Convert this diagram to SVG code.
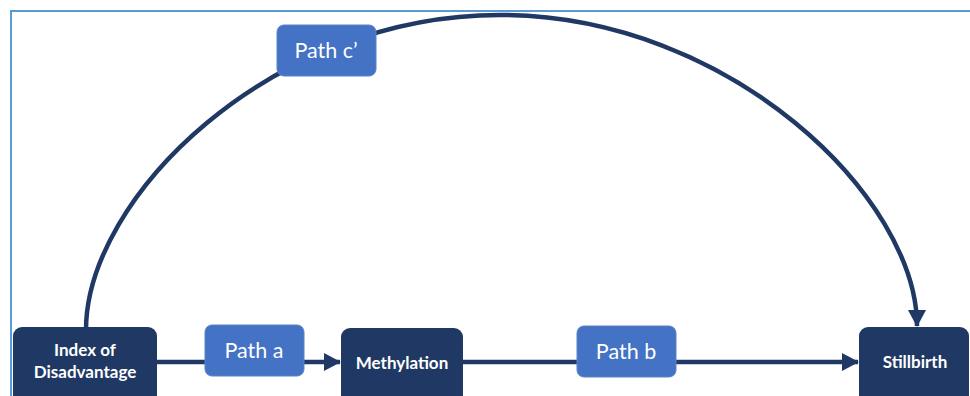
<svg xmlns="http://www.w3.org/2000/svg" width="970" height="396" viewBox="0 0 970 396">
  <defs>
    <marker id="arrow" markerUnits="userSpaceOnUse" markerWidth="18" markerHeight="18" refX="16" refY="9" orient="auto">
      <path d="M0,0 L17,9 L0,18 Z" fill="#203864"/>
    </marker>
    <style>
      .frame { fill: none; stroke: #5B9BD5; stroke-width: 2; }
      .node rect { fill: #203864; }
      .node text { fill: #ffffff; font-family: Lato, "Open Sans", "Liberation Sans", sans-serif; font-weight: bold; font-size: 17px; text-anchor: middle; }
      .label rect { fill: #4472C4; stroke: #5B82C8; stroke-width: 1; }
      .label text { fill: #ffffff; font-family: Lato, "Open Sans", "Liberation Sans", sans-serif; font-size: 21.5px; text-anchor: middle; }
      .edge { fill: none; stroke: #203864; stroke-width: 4.5; }
    </style>
  </defs>

  <rect width="970" height="396" fill="#ffffff"/>
  <!-- outer frame, open to the right and bottom -->
  <path class="frame" d="M11,400 L11,11 L975,11"/>

  <g id="connectors">
    <path class="edge" d="M86,330 C86,198 270,15 500,15 C730,15 917,198 917,326" marker-end="url(#arrow)"/>
    <path class="edge" d="M157,362 L340,362" marker-end="url(#arrow)"/>
    <path class="edge" d="M463,362 L858,362" marker-end="url(#arrow)"/>
  </g>

  <g id="node-index" class="node">
    <rect x="13" y="327" width="144" height="80" rx="9"/>
    <text x="85" y="356">Index of</text>
    <text x="85" y="378">Disadvantage</text>
  </g>

  <g id="node-methylation" class="node">
    <rect x="341" y="328" width="122" height="80" rx="9"/>
    <text x="402" y="369">Methylation</text>
  </g>

  <g id="node-stillbirth" class="node">
    <rect x="859" y="327" width="110" height="80" rx="9"/>
    <text x="915" y="368">Stillbirth</text>
  </g>

  <g id="label-path-a" class="label">
    <rect x="205" y="325" width="99" height="51" rx="7"/>
    <text x="254" y="358">Path a</text>
  </g>

  <g id="label-path-b" class="label">
    <rect x="577" y="326" width="99" height="51" rx="7"/>
    <text x="626" y="359">Path b</text>
  </g>

  <g id="label-path-c" class="label">
    <rect x="277" y="25" width="99" height="51" rx="7"/>
    <text x="326" y="58">Path c’</text>
  </g>
</svg>
